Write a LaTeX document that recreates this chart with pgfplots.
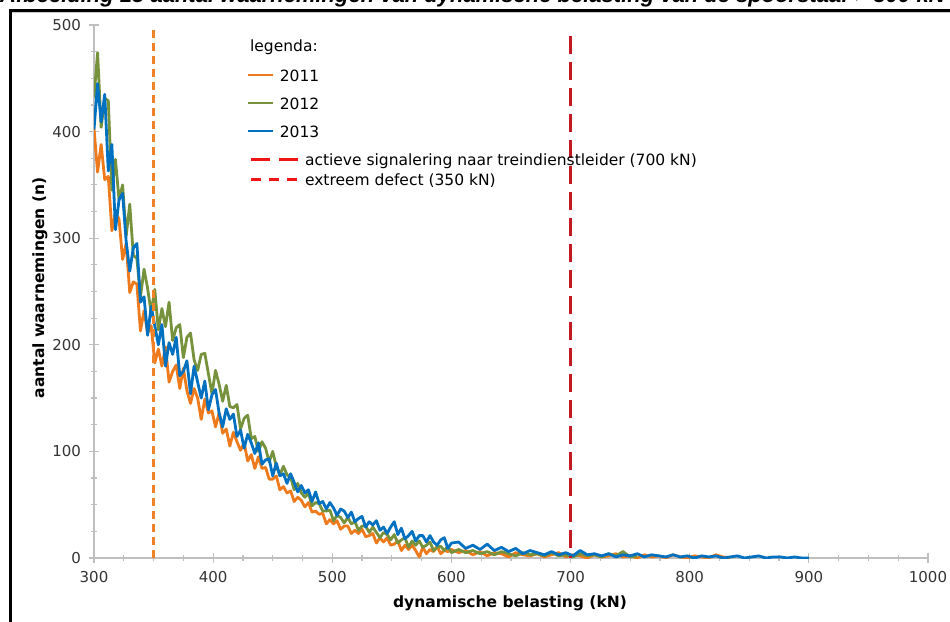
\documentclass[border=0pt]{standalone}
\usepackage{fontspec}
\setmainfont{DejaVu Sans}
\newfontfamily\titlefont{Liberation Sans}
\usepackage{pgfplots}
\pgfplotsset{compat=1.18}
\definecolor{cA}{RGB}{238,122,28}
\definecolor{cB}{RGB}{118,146,60}
\definecolor{cC}{RGB}{0,112,192}
\definecolor{cOr}{RGB}{240,130,40}
\definecolor{cDr}{RGB}{195,25,35}
\definecolor{cRed}{RGB}{240,20,20}
\begin{document}
\begin{tikzpicture}[x=1pt,y=1pt]
\useasboundingbox (0,0) rectangle (950,621);
\clip (0,0) rectangle (950,621);
\node[anchor=base west, inner sep=0pt, font=\titlefont\bfseries\itshape\fontsize{22}{26}\selectfont] at (0,618.8) {Afbeelding 15 aantal waarnemingen van dynamische belasting van de spoorstaaf > 300 kN};
\draw[black!22, line width=1.6pt] (12,608.4) -- (960,608.4);
\draw[line width=2.2pt] (10.5,-10) -- (10.5,610.5) -- (960,610.5);

\begin{axis}[
  at={(94pt,63pt)}, anchor=south west,
  scale only axis, width=834pt, height=533pt,
  xmin=300, xmax=1000, ymin=0, ymax=500,
  axis lines=left, axis line style={-, draw=black!25, line width=1.2pt},
  xtick={300,400,...,1000}, ytick={0,100,...,500},
  minor tick num=3,
  tick align=center,
  major tick length=9pt, minor tick length=5pt,
  tick style={black!25, line width=1.2pt},
  ticklabel style={font=\fontsize{15}{18}\selectfont, text=black!80},
  /pgf/number format/assume math mode=true,
  scaled ticks=false,
  xticklabel style={/pgf/number format/1000 sep={}, yshift=-5pt},
  yticklabel style={xshift=-5pt},
  xlabel={dynamische belasting (kN)}, ylabel={aantal waarnemingen (n)},
  label style={font=\bfseries\fontsize{15.5}{18}\selectfont},
  xlabel style={at={(axis description cs:0.4988,-0.0844)}, anchor=center},
  ylabel style={at={(axis description cs:-0.0648,0.5066)}, anchor=center},
  legend style={draw=none, fill=none, at={(0.1835,0.9174)}, anchor=north west, inner sep=0pt, outer sep=0pt, row sep=16pt, column sep=5pt, nodes={inner sep=0pt, text height=12pt, text depth=0pt, font=\fontsize{15.5}{18}\selectfont}},
  legend cell align=left,
  legend image code/.code={\draw[#1] (0pt,0pt) -- (25pt,0pt);},
  every axis plot/.append style={line join=round},
]
\addplot[cA, line width=2.8pt] coordinates {
(300,403) (303,362) (306,388) (309,355) (312,358) (315,307) (318,324) (321,318) (324,280) (327,295) (330,249) (333,259) (336,257) (339,213) (342,232) (345,211) (348,218) (351,183) (354,196) (357,180) (360,198) (363,165) (366,175) (369,181) (372,159) (375,178) (378,157) (381,145) (384,159) (387,150) (390,130) (393,149) (396,136) (399,138) (402,123) (405,136) (408,117) (411,121) (414,105) (417,118) (420,109) (423,101) (426,108) (429,91) (432,97) (435,84) (438,95) (441,84) (444,85) (447,74) (450,74) (453,77) (456,64) (459,67) (462,61) (465,63) (468,53) (471,57) (474,54) (477,48) (480,52) (483,43) (486,44) (489,41) (492,42) (495,32) (498,36) (501,32) (504,35) (507,27) (510,30) (513,30) (516,23) (519,26) (522,23) (525,27) (528,20) (531,21) (534,23) (537,14) (540,19) (543,15) (546,19) (549,12) (552,13) (555,16) (558,7) (561,12) (564,8) (567,12) (570,7) (573,1) (576,10) (579,4) (582,8) (585,6) (588,11) (591,4) (594,7) (597,6) (600,8) (606,5) (612,7) (618,3) (624,6) (630,2) (636,5) (642,4) (648,1) (654,5) (660,3) (666,2) (672,4) (678,1) (684,3) (690,5) (696,1) (702,3) (708,2) (714,0) (720,3) (726,1) (732,2) (738,4) (744,1) (750,2) (756,0) (762,3) (768,1) (774,2) (780,0) (786,3) (792,1) (798,0) (804,2) (810,1) (816,0) (822,3) (828,1) (834,0)
};
\addlegendentry{2011}
\addplot[cB, line width=2.8pt] coordinates {
(300,432) (303,474) (306,404) (309,431) (312,429) (315,345) (318,374) (321,336) (324,350) (327,302) (330,332) (333,284) (336,281) (339,245) (342,271) (345,253) (348,230) (351,252) (354,214) (357,234) (360,217) (363,240) (366,204) (369,216) (372,219) (375,188) (378,207) (381,211) (384,186) (387,176) (390,191) (393,192) (396,173) (399,154) (402,176) (405,163) (408,147) (411,162) (414,142) (417,141) (420,144) (423,121) (426,131) (429,134) (432,112) (435,114) (438,100) (441,109) (444,103) (447,90) (450,100) (453,86) (456,78) (459,86) (462,78) (465,76) (468,64) (471,70) (474,61) (477,57) (480,61) (483,49) (486,52) (489,51) (492,44) (495,44) (498,45) (501,35) (504,40) (507,38) (510,33) (513,38) (516,32) (519,34) (522,26) (525,30) (528,30) (531,24) (534,29) (537,24) (540,19) (543,24) (546,22) (549,17) (552,22) (555,14) (558,17) (561,19) (564,10) (567,16) (570,12) (573,16) (576,10) (579,12) (582,15) (585,7) (588,10) (591,11) (594,7) (597,11) (600,5) (606,8) (612,5) (618,7) (624,4) (630,6) (636,3) (642,6) (648,4) (654,2) (660,5) (666,3) (672,4) (678,2) (684,5) (690,2) (696,3) (702,1) (708,4) (714,2) (720,3) (726,1) (732,4) (738,2) (744,6) (750,1) (756,2)
};
\addlegendentry{2012}
\addplot[cC, line width=2.8pt] coordinates {
(300,402) (303,445) (306,409) (309,435) (312,363) (315,388) (318,308) (321,336) (324,342) (327,297) (330,269) (333,291) (336,295) (339,240) (342,245) (345,209) (348,236) (351,218) (354,200) (357,219) (360,180) (363,202) (366,191) (369,207) (372,171) (375,175) (378,185) (381,154) (384,180) (387,165) (390,150) (393,166) (396,139) (399,153) (402,158) (405,136) (408,123) (411,140) (414,130) (417,135) (420,114) (423,120) (426,103) (429,116) (432,108) (435,98) (438,108) (441,88) (444,92) (447,93) (450,77) (453,89) (456,77) (459,79) (462,70) (465,79) (468,71) (471,62) (474,68) (477,61) (480,64) (483,53) (486,62) (489,51) (492,53) (495,46) (498,52) (501,47) (504,40) (507,46) (510,44) (513,38) (516,43) (519,34) (522,37) (525,39) (528,29) (531,34) (534,31) (537,35) (540,26) (543,29) (546,23) (549,29) (552,34) (555,22) (558,28) (561,18) (564,21) (567,25) (570,16) (573,21) (576,21) (579,15) (582,21) (585,15) (588,12) (591,17) (594,19) (597,9) (600,14) (606,15) (612,9) (618,12) (624,8) (630,13) (636,7) (642,10) (648,6) (654,9) (660,4) (666,7) (672,5) (678,3) (684,6) (690,3) (696,5) (702,2) (708,7) (714,3) (720,4) (726,2) (732,4) (738,1) (744,3) (750,2) (756,4) (762,1) (768,3) (774,2) (780,1) (786,3) (792,1) (798,2) (804,0) (810,2) (816,1) (822,2) (828,0) (834,1) (840,2) (846,0) (852,1) (858,2) (864,0) (870,1) (876,1) (882,0) (888,1) (894,0) (900,0)
};
\addlegendentry{2013}
\node[anchor=west, inner sep=0pt, font=\fontsize{15.5}{18}\selectfont] at (rel axis cs:0.187,0.9587) {legenda:};
\end{axis}

\begin{axis}[
  at={(94pt,63pt)}, anchor=south west,
  scale only axis, width=834pt, height=533pt,
  xmin=300, xmax=1000, ymin=0, ymax=500,
  hide axis,
  legend style={draw=none, fill=none, at={(0.1859,0.758)}, anchor=north west, inner sep=0pt, outer sep=0pt, row sep=8pt, column sep=6pt, nodes={inner sep=0pt, text height=12pt, text depth=0pt, font=\fontsize{15.5}{18}\selectfont}},
  legend cell align=left,
  legend image code/.code={\draw[#1] (0pt,0pt) -- (47pt,0pt);},
]
\addplot[cOr, line width=2.6pt, dash pattern=on 8pt off 5pt, forget plot] coordinates {(350,495) (350,0)};
\addplot[cDr, line width=2.6pt, dash pattern=on 18pt off 8pt, forget plot] coordinates {(700,490) (700,0)};
\addlegendimage{cRed, line width=3pt, dash pattern=on 19pt off 9pt}
\addlegendentry{actieve signalering naar treindienstleider (700 kN)}
\addlegendimage{cRed, line width=3pt, dash pattern=on 10pt off 8pt}
\addlegendentry{extreem defect (350 kN)}
\end{axis}
\end{tikzpicture}
\end{document}
